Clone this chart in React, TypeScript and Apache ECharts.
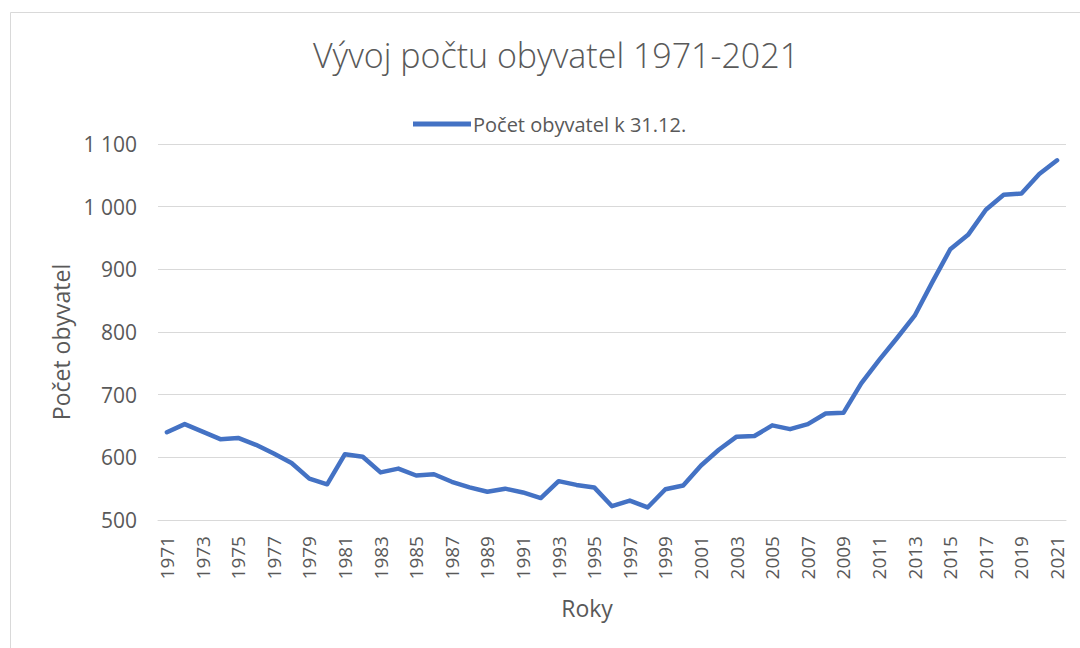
import React, { useEffect, useRef } from "react";
import * as echarts from "echarts";

const years: string[] = [
  "1971","1972","1973","1974","1975","1976","1977","1978","1979","1980",
  "1981","1982","1983","1984","1985","1986","1987","1988","1989","1990",
  "1991","1992","1993","1994","1995","1996","1997","1998","1999","2000",
  "2001","2002","2003","2004","2005","2006","2007","2008","2009","2010",
  "2011","2012","2013","2014","2015","2016","2017","2018","2019","2020","2021",
];

const population: number[] = [
  640, 653, 641, 629, 631, 620, 606, 591, 566, 557,
  605, 601, 576, 582, 571, 573, 561, 552, 545, 550,
  544, 535, 562, 556, 552, 522, 531, 520, 549, 555,
  587, 612, 633, 634, 651, 645, 653, 670, 671, 718,
  755, 790, 826, 880, 932, 955, 995, 1019, 1021, 1052, 1074,
];

const titleText = "Vývoj počtu obyvatel 1971-2021";
const seriesName = "Počet obyvatel k 31.12.";
const xName = "Roky";
const yName = "Počet obyvatel";

const FONT = "'Open Sans', 'Noto Sans', sans-serif";
const GREY = "#595959";

export default function App() {
  const ref = useRef<HTMLDivElement>(null);
  useEffect(() => {
    if (!ref.current) return;
    const chart = echarts.init(ref.current, null, { renderer: "svg" });
    chart.setOption({
      animation: false,
      backgroundColor: "#ffffff",
      textStyle: { fontFamily: FONT },
      graphic: [
        {
          type: "rect",
          shape: { x: 10.5, y: 12.5, width: 1200, height: 800 },
          style: { fill: "none", stroke: "#d9d9d9", lineWidth: 1 },
          silent: true,
          z: -1,
        },
      ],
      title: {
        text: titleText,
        left: 308,
        top: 33,
        textStyle: { fontFamily: FONT, fontSize: 34, fontWeight: 300, color: GREY },
      },
      legend: {
        left: 408,
        top: 109,
        itemWidth: 58,
        itemHeight: 16,
        itemGap: 10,
        textStyle: { fontFamily: FONT, fontSize: 20, color: GREY, padding: [0, 0, 0, -3] },
        data: [{ name: seriesName, icon: "path://M0,0 L58,0 L58,5 L0,5 Z" }],
      },
      grid: { left: 158, right: 14, top: 144, bottom: 128, containLabel: false },
      xAxis: {
        type: "category",
        data: years,
        boundaryGap: true,
        name: xName,
        nameLocation: "middle",
        nameGap: 76,
        nameTextStyle: { fontFamily: FONT, fontSize: 23, color: GREY, padding: [0, 50, 0, 0] },
        axisLine: { show: true, lineStyle: { color: "#d9d9d9", width: 1 } },
        axisTick: { show: false },
        axisLabel: {
          interval: 1,
          rotate: 90,
          margin: 16,
          fontFamily: FONT,
          fontSize: 19,
          color: GREY,
        },
        splitLine: { show: false },
      },
      yAxis: {
        type: "value",
        min: 500,
        max: 1100,
        interval: 100,
        name: yName,
        nameLocation: "middle",
        nameGap: 82,
        nameTextStyle: { fontFamily: FONT, fontSize: 23, color: GREY, padding: [0, 0, 0, -20] },
        axisLine: { show: false },
        axisTick: { show: false },
        axisLabel: {
          margin: 21,
          fontFamily: FONT,
          fontSize: 21,
          color: GREY,
          formatter: (v: number) => String(v).replace(/\B(?=(\d{3})+(?!\d))/g, " "),
        },
        splitLine: { show: true, lineStyle: { color: "#d9d9d9", width: 1 } },
      },
      series: [
        {
          name: seriesName,
          type: "line",
          data: population,
          showSymbol: false,
          symbol: "none",
          lineStyle: { color: "#4472C4", width: 4.5, cap: "round", join: "round" },
          itemStyle: { color: "#4472C4" },
        },
      ],
    });
    return () => chart.dispose();
  }, []);
  return <div ref={ref} style={{ width: 1080, height: 648, position: "absolute", left: 0, top: 0 }} />;
}
